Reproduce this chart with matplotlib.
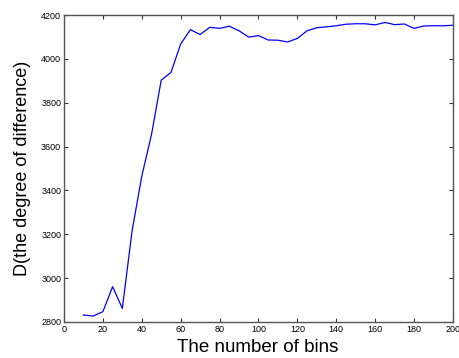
import matplotlib
matplotlib.use('Agg')
import matplotlib.pyplot as plt

# number of bins vs. degree of difference
bins = [10, 15, 20, 25, 30, 35, 40, 45, 50, 55, 60, 65, 70, 75, 80, 85, 90, 95,
        100, 105, 110, 115, 120, 125, 130, 135, 140, 145, 150, 155, 160, 165,
        170, 175, 180, 185, 190, 195, 200]
diff = [2832, 2827, 2847, 2961, 2862, 3215, 3465, 3655, 3903, 3938, 4068, 4133,
        4111, 4144, 4139, 4149, 4128, 4099, 4106, 4086, 4085, 4077, 4093, 4128,
        4142, 4146, 4151, 4158, 4160, 4160, 4155, 4166, 4156, 4159, 4139, 4150,
        4151, 4151, 4153]

xticks = list(range(0, 201, 20))
yticks = list(range(2800, 4201, 200))

plt.rcParams['font.family'] = ['Liberation Sans', 'DejaVu Sans']

fig = plt.figure(figsize=(4.59, 3.58), dpi=100)
ax = fig.add_axes([0.1394, 0.1006, 0.8475, 0.8575])

ax.plot(bins, diff, color='#0000ff', linewidth=0.9)

ax.set_xlim(0, 200)
ax.set_ylim(2800, 4200)
ax.set_xticks(xticks)
ax.set_yticks(yticks)
ax.tick_params(direction='in', top=True, right=True, length=3, width=0.8,
               labelsize=6.5, pad=2, color='#333333')
for s in ax.spines.values():
    s.set_color('#555555')
    s.set_linewidth(1.0)

fig.text(258 / 459, 1 - 348 / 358, 'The number of bins', ha='center', va='center',
         fontsize=13.5)
fig.text(23 / 459, 1 - 168 / 358, 'D(the degree of difference)', ha='center',
         va='center', rotation=90, fontsize=13)

fig.savefig('out.png', dpi=100)
